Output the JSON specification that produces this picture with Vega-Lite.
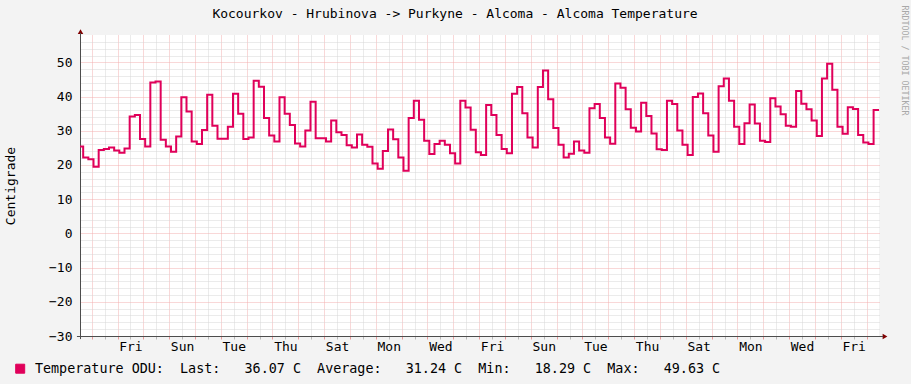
{
"$schema": "https://vega.github.io/schema/vega-lite/v6.json",
"width": 799, "height": 301,
"autosize": "none",
"padding": {"left": 80, "top": 35, "right": 32, "bottom": 48},
"background": "#F3F3F3",
"config": {"view": {"fill": "#FFFFFF", "stroke": null}, "font": "DejaVu Sans Mono"},
"title": {"text": "Kocourkov - Hrubinova -> Purkyne - Alcoma - Alcoma Temperature", "font": "DejaVu Sans Mono", "fontSize": 13, "fontWeight": "normal", "color": "#000000", "anchor": "middle", "frame": "group", "dx": -24.5, "dy": 26, "offset": 10},
"resolve": {"axis": {"x": "independent", "y": "independent"}},
"layer": [
{
"data": {"values": [{}]},
"mark": {"type": "point", "shape": "triangle-up", "filled": true, "color": "#7F0000", "size": 30, "opacity": 1},
"encoding": {
"x": {"datum": -1.4326, "type": "quantitative", "scale": {"domain": [-1.452, 29.48], "nice": false, "zero": false},
"axis": {"orient": "bottom", "values": [-0.5,0.5,1.5,2.5,3.5,4.5,5.5,6.5,7.5,8.5,9.5,10.5,11.5,12.5,13.5,14.5,15.5,16.5,17.5,18.5,19.5,20.5,21.5,22.5,23.5,24.5,25.5,26.5,27.5,28.5],
"grid": true, "gridColor": "#D6D6D6", "gridDash": [1,1], "gridWidth": 1, "ticks": true, "tickColor": "#B8B8B8", "tickSize": 3, "domain": false, "title": null,
"labelExpr": "(floor(datum.value) % 2 == 0) ? ['Fri','Sat','Sun','Mon','Tue','Wed','Thu'][floor(datum.value) % 7] : ''",
"labelFont": "DejaVu Sans Mono", "labelFontSize": 13, "labelColor": "#000000", "labelPadding": 1, "labelFlush": false, "labelOverlap": false}},
"y": {"datum": 59.0, "type": "quantitative", "scale": {"domain": [-30, 58], "nice": false, "zero": false},
"axis": {"orient": "left", "values": [-28,-26,-24,-22,-18,-16,-14,-12,-8,-6,-4,-2,2,4,6,8,12,14,16,18,22,24,26,28,32,34,36,38,42,44,46,48,52,54,56],
"grid": true, "gridColor": "#D6D6D6", "gridDash": [1,1], "gridWidth": 1, "ticks": false, "labels": false, "domain": false, "title": null}}
}
},
{
"data": {"values": [{}]},
"mark": {"type": "point", "shape": "triangle-right", "filled": true, "color": "#7F0000", "size": 30, "opacity": 1},
"encoding": {
"x": {"datum": 29.713, "type": "quantitative", "scale": {"domain": [-1.452, 29.48], "nice": false, "zero": false},
"axis": {"orient": "bottom", "values": [-1,0,1,2,3,4,5,6,7,8,9,10,11,12,13,14,15,16,17,18,19,20,21,22,23,24,25,26,27,28,29],
"grid": true, "gridColor": "#F3B0B0", "gridDash": [1,1], "gridWidth": 1, "ticks": true, "tickColor": "#E89A9A", "tickSize": 3, "labels": false, "domain": false, "title": null}},
"y": {"datum": -30.15, "type": "quantitative", "scale": {"domain": [-30, 58], "nice": false, "zero": false},
"axis": {"orient": "left", "values": [-30,-20,-10,0,10,20,30,40,50],
"grid": true, "gridColor": "#F3B0B0", "gridDash": [1,1], "gridWidth": 1, "ticks": false, "domain": false,
"labelFont": "DejaVu Sans Mono", "labelFontSize": 13, "labelColor": "#000000", "labelPadding": 8,
"title": "Centigrade", "titleFont": "DejaVu Sans Mono", "titleFontSize": 13, "titleFontWeight": "normal", "titleColor": "#000000",
"titleAngle": -90, "titleX": -70, "titleY": 150.5, "titleAlign": "center", "titleBaseline": "middle"}}
}
},
{
"data": {"values": [{}]},
"mark": {"type": "rule", "color": "#4D4D4D", "strokeWidth": 1},
"encoding": {
"x": {"datum": -1.57, "type": "quantitative", "scale": {"domain": [-1.452, 29.48], "nice": false, "zero": false}, "axis": null},
"x2": {"datum": 29.64},
"y": {"datum": -30.15, "type": "quantitative", "scale": {"domain": [-30, 58], "nice": false, "zero": false}, "axis": null}
}
},
{
"data": {"values": [{}]},
"mark": {"type": "rule", "color": "#4D4D4D", "strokeWidth": 1},
"encoding": {
"x": {"datum": -1.4326, "type": "quantitative", "scale": {"domain": [-1.452, 29.48], "nice": false, "zero": false}, "axis": null},
"y": {"datum": -30.9, "type": "quantitative", "scale": {"domain": [-30, 58], "nice": false, "zero": false}, "axis": null},
"y2": {"datum": 58.6}
}
},
{
"data": {"values": [
{"t":-1.529,"v":25.4},{"t":-1.329,"v":22.2},{"t":-1.129,"v":21.7},{"t":-0.929,"v":19.5},{"t":-0.729,"v":24.4},
{"t":-0.529,"v":24.7},{"t":-0.329,"v":25.1},{"t":-0.129,"v":24.2},{"t":0.071,"v":23.6},{"t":0.271,"v":24.8},
{"t":0.471,"v":34.2},{"t":0.671,"v":34.6},{"t":0.871,"v":27.6},{"t":1.071,"v":25.4},{"t":1.271,"v":44.1},
{"t":1.471,"v":44.4},{"t":1.671,"v":27.4},{"t":1.871,"v":25.4},{"t":2.071,"v":23.9},{"t":2.271,"v":28.3},
{"t":2.471,"v":39.8},{"t":2.671,"v":35.6},{"t":2.871,"v":26.9},{"t":3.071,"v":26.1},{"t":3.271,"v":30.2},
{"t":3.471,"v":40.5},{"t":3.671,"v":31.5},{"t":3.871,"v":27.7},{"t":4.071,"v":27.7},{"t":4.271,"v":31.2},
{"t":4.471,"v":40.8},{"t":4.671,"v":35.0},{"t":4.871,"v":27.6},{"t":5.071,"v":28.0},{"t":5.271,"v":44.6},
{"t":5.471,"v":42.9},{"t":5.671,"v":33.7},{"t":5.871,"v":28.6},{"t":6.071,"v":26.9},{"t":6.271,"v":39.8},
{"t":6.471,"v":35.0},{"t":6.671,"v":31.7},{"t":6.871,"v":26.3},{"t":7.071,"v":25.4},{"t":7.271,"v":30.1},
{"t":7.471,"v":38.5},{"t":7.671,"v":27.8},{"t":7.871,"v":27.8},{"t":8.071,"v":26.9},{"t":8.271,"v":33.0},
{"t":8.471,"v":29.6},{"t":8.671,"v":28.8},{"t":8.871,"v":25.8},{"t":9.071,"v":25.1},{"t":9.271,"v":28.9},
{"t":9.471,"v":25.9},{"t":9.671,"v":25.3},{"t":9.871,"v":20.4},{"t":10.071,"v":18.9},{"t":10.271,"v":24.1},
{"t":10.471,"v":30.4},{"t":10.671,"v":27.5},{"t":10.871,"v":22.2},{"t":11.071,"v":18.29},{"t":11.271,"v":33.7},
{"t":11.471,"v":38.8},{"t":11.671,"v":33.2},{"t":11.871,"v":27.1},{"t":12.071,"v":23.2},{"t":12.271,"v":26.1},
{"t":12.471,"v":27.1},{"t":12.671,"v":25.9},{"t":12.871,"v":23.4},{"t":13.071,"v":20.4},{"t":13.271,"v":38.8},
{"t":13.471,"v":36.8},{"t":13.671,"v":30.3},{"t":13.871,"v":23.7},{"t":14.071,"v":22.9},{"t":14.271,"v":37.5},
{"t":14.471,"v":34.6},{"t":14.671,"v":28.8},{"t":14.871,"v":24.7},{"t":15.071,"v":23.4},{"t":15.271,"v":40.8},
{"t":15.471,"v":42.8},{"t":15.671,"v":35.1},{"t":15.871,"v":28.0},{"t":16.071,"v":25.1},{"t":16.271,"v":42.8},
{"t":16.471,"v":47.6},{"t":16.671,"v":39.2},{"t":16.871,"v":30.8},{"t":17.071,"v":25.9},{"t":17.271,"v":22.2},
{"t":17.471,"v":23.3},{"t":17.671,"v":26.9},{"t":17.871,"v":24.2},{"t":18.071,"v":23.6},{"t":18.271,"v":36.6},
{"t":18.471,"v":37.8},{"t":18.671,"v":33.7},{"t":18.871,"v":28.0},{"t":19.071,"v":26.2},{"t":19.271,"v":43.8},
{"t":19.471,"v":42.6},{"t":19.671,"v":36.3},{"t":19.871,"v":30.9},{"t":20.071,"v":29.8},{"t":20.271,"v":38.2},
{"t":20.471,"v":34.3},{"t":20.671,"v":29.2},{"t":20.871,"v":24.6},{"t":21.071,"v":24.4},{"t":21.271,"v":38.8},
{"t":21.471,"v":37.8},{"t":21.671,"v":30.1},{"t":21.871,"v":25.9},{"t":22.071,"v":22.9},{"t":22.271,"v":39.9},
{"t":22.471,"v":40.9},{"t":22.671,"v":35.1},{"t":22.871,"v":28.6},{"t":23.071,"v":23.9},{"t":23.271,"v":43.0},
{"t":23.471,"v":45.3},{"t":23.671,"v":38.8},{"t":23.871,"v":31.2},{"t":24.071,"v":26.1},{"t":24.271,"v":32.2},
{"t":24.471,"v":37.7},{"t":24.671,"v":32.1},{"t":24.871,"v":27.1},{"t":25.071,"v":26.7},{"t":25.271,"v":39.5},
{"t":25.471,"v":37.1},{"t":25.671,"v":34.8},{"t":25.871,"v":31.5},{"t":26.071,"v":31.2},{"t":26.271,"v":41.6},
{"t":26.471,"v":37.9},{"t":26.671,"v":36.3},{"t":26.871,"v":33.0},{"t":27.071,"v":28.5},{"t":27.271,"v":45.3},
{"t":27.471,"v":49.63},{"t":27.671,"v":42.0},{"t":27.871,"v":31.2},{"t":28.071,"v":29.1},{"t":28.271,"v":36.9},
{"t":28.471,"v":36.4},{"t":28.671,"v":28.8},{"t":28.871,"v":26.6},{"t":29.071,"v":26.1},{"t":29.271,"v":36.07},
{"t":29.471,"v":36.07},{"t":29.671,"v":36.07}
]},
"mark": {"type": "line", "interpolate": "step-after", "strokeWidth": 2, "clip": true},
"encoding": {
"x": {"field": "t", "type": "quantitative", "scale": {"domain": [-1.452, 29.48], "nice": false, "zero": false}, "axis": null},
"y": {"field": "v", "type": "quantitative", "scale": {"domain": [-30, 58], "nice": false, "zero": false},
"axis": {"orient": "right", "labels": false, "ticks": false, "domain": false, "grid": false,
"title": "RRDTOOL / TOBI OETIKER", "titleFont": "DejaVu Sans Mono", "titleFontSize": 8.3, "titleFontWeight": "normal", "titleColor": "#A8A8A8",
"titleAngle": 90, "titleX": 24, "titleY": 25, "titleAlign": "center", "titleBaseline": "middle"}},
"color": {"datum": "Temperature ODU", "type": "nominal", "scale": {"range": ["#E0005A"]},
"legend": {"orient": "none", "legendX": -66.5, "legendY": 327, "title": null, "padding": 0, "symbolType": "square", "symbolSize": 81,
"labelFont": "DejaVu Sans Mono", "labelFontSize": 13.4, "labelColor": "#000000", "labelOffset": 8, "labelLimit": 0,
"labelExpr": "datum.label + ':\u00a0\u00a0Last:\u00a0\u00a0\u00a036.07\u00a0C\u00a0\u00a0Average:\u00a0\u00a0\u00a031.24\u00a0C\u00a0\u00a0Min:\u00a0\u00a0\u00a018.29\u00a0C\u00a0\u00a0Max:\u00a0\u00a0\u00a049.63\u00a0C'",
"encode": {"symbols": {"update": {"fill": {"value": "#E0005A"}, "stroke": {"value": "#000000"}, "strokeWidth": {"value": 1}, "opacity": {"value": 1}}}}}}
}
}
]
}
